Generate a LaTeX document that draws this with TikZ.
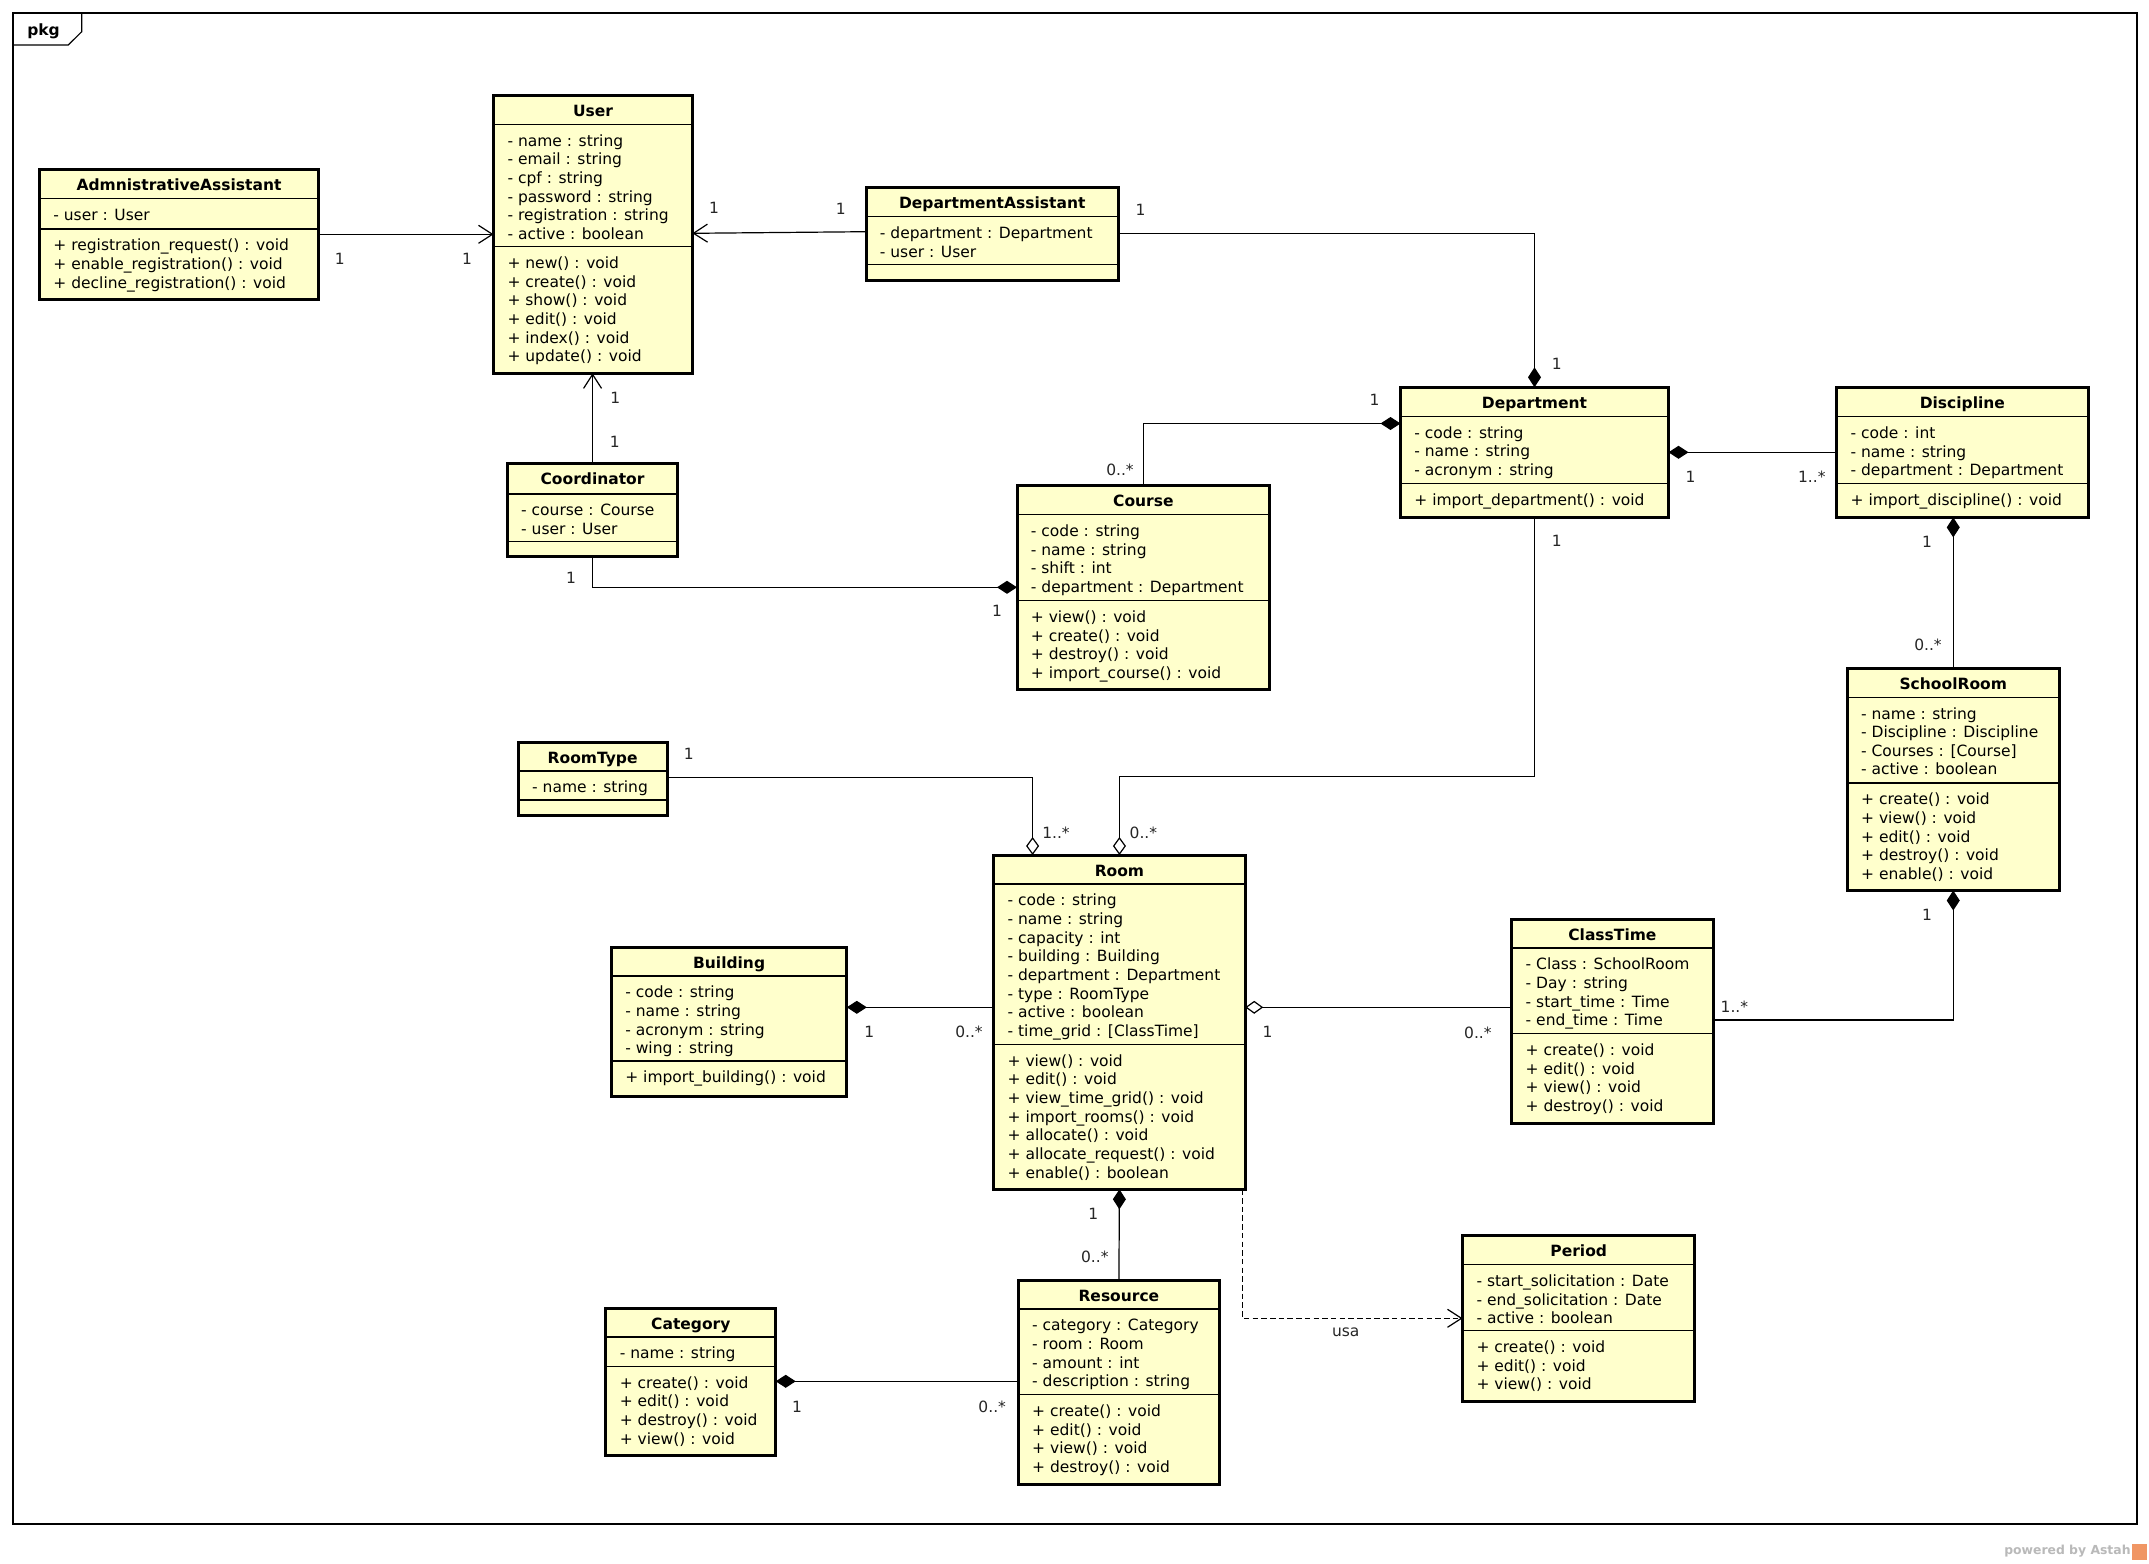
\documentclass[tikz,border=0pt]{standalone}
\usepackage{fontspec}
\setmainfont{DejaVu Sans}
\usetikzlibrary{arrows.meta}
\definecolor{classfill}{RGB}{255,255,204}
\definecolor{astahorange}{RGB}{240,150,100}
\definecolor{wmgray}{RGB}{185,185,185}
\tikzset{
  classbox/.style={rectangle, draw=black, fill=classfill, line width=1.5pt, inner sep=0pt, outer sep=0pt},
  sepline/.style={line width=0.55pt, draw=black},
  titletxt/.style={font=\fontsize{7.75}{9}\selectfont\bfseries, anchor=base, inner sep=0pt},
  rowtxt/.style={font=\fontsize{7.75}{9}\selectfont, anchor=base west, inner sep=0pt},
  multtxt/.style={font=\fontsize{7.75}{9}\selectfont, text=black!85, inner sep=0pt},
  conn/.style={line width=0.6pt, draw=black},
  cS/.style={conn, arrows={Diamond[length=10pt,width=6.5pt]-}},
  cE/.style={conn, arrows={-Diamond[length=10pt,width=6.5pt]}},
  aS/.style={conn, arrows={Diamond[open,length=9pt,width=6.5pt,fill=white]-}},
  aE/.style={conn, arrows={-Diamond[open,length=9pt,width=6.5pt,fill=white]}},
  nav/.style={conn, arrows={-Straight Barb[length=7pt,width=9pt]}},
  depline/.style={conn, dash pattern=on 2.75pt off 1.6pt, arrows={-Straight Barb[length=7pt,width=9pt]}},
  framebox/.style={rectangle, draw=black, line width=0.6pt, inner sep=0pt, outer sep=0pt},
}
% #1 name #2 x1 #3 y1 #4 x2 #5 y2 #6 s1 #7 s2 #8 title #9 attributes
\newcommand\umlclass[9]{%
  \node[classbox, anchor=north west, minimum width={(#4-#2)*0.5pt}, minimum height={(#5-#3)*0.5pt}] (#1) at (#2,#3) {};
  \draw[sepline] (#1.west |- 0,#6) -- (#1.east |- 0,#6);
  \draw[sepline] (#1.west |- 0,#7) -- (#1.east |- 0,#7);
  \node[titletxt] (#1-title) at ({(#2+#4)/2},{#3+21}) {#8};
  \foreach \rowtext [count=\i from 0] in {#9}
    \node[rowtxt] (#1-a\i) at ({#2+13.5},{#6+21.8+\i*18.65}) {\rowtext};
}
% #1 name #2 x1 #3 s2 #4 operations
\newcommand\umlops[4]{%
  \foreach \rowtext [count=\i from 0] in {#4}
    \node[rowtxt] (#1-o\i) at ({#2+13.5},{#3+21.8+\i*18.65}) {\rowtext};
}
\newcommand\mult[4]{\node[multtxt] (#1) at (#2,#3) {#4};}

\begin{document}
\begin{tikzpicture}[x=0.5pt, y=-0.5pt]
\useasboundingbox (0,0) rectangle (2149,1564);
\fill[white] (0,0) rectangle (2149,1564);

% package frame
\node[framebox, anchor=north west, minimum width={2124*0.5pt}, minimum height={1511*0.5pt}] (frame) at (13,13) {};
\draw[line width=0.6pt] (frame.north west |- 0,45) -- (68.3,45) -- (81.7,31.7) -- (81.7,13);
\node[font=\fontsize{7.75}{9}\selectfont\bfseries, inner sep=0pt] (pkg) at (43.5,31) {pkg};

% classes
\umlclass{aa}{39.5}{169.3}{318.6}{299.3}{198.3}{229}{AdmnistrativeAssistant}{- user : User}
\umlops{aa}{39.5}{229}{+ registration\_request() : void, + enable\_registration() : void, + decline\_registration() : void}

\umlclass{user}{493.6}{95}{692.4}{373.3}{124.3}{246.7}{User}{- name : string, - email : string, - cpf : string, - password : string, - registration : string, - active : boolean}
\umlops{user}{493.6}{246.7}{+ new() : void, + create() : void, + show() : void, + edit() : void, + index() : void, + update() : void}

\umlclass{da}{866}{187}{1118.5}{280}{216.7}{264.3}{DepartmentAssistant}{- department : Department, - user : User}

\umlclass{dept}{1400.5}{387.3}{1668.5}{517}{416.5}{483.7}{Department}{- code : string, - name : string, - acronym : string}
\umlops{dept}{1400.5}{483.7}{+ import\_department() : void}

\umlclass{disc}{1836.7}{387.3}{2088}{517.4}{416.8}{483.7}{Discipline}{- code : int, - name : string, - department : Department}
\umlops{disc}{1836.7}{483.7}{+ import\_discipline() : void}

\umlclass{coord}{507.3}{463.7}{677.8}{556.7}{494}{541.3}{Coordinator}{- course : Course, - user : User}

\umlclass{course}{1017}{485.3}{1269.7}{689.7}{514.7}{600.7}{Course}{- code : string, - name : string, - shift : int, - department : Department}
\umlops{course}{1017}{600.7}{+ view() : void, + create() : void, + destroy() : void, + import\_course() : void}

\umlclass{school}{1847.2}{668.2}{2059.3}{890.5}{697.2}{783}{SchoolRoom}{- name : string, - Discipline : Discipline, - Courses : [Course], - active : boolean}
\umlops{school}{1847.2}{783}{+ create() : void, + view() : void, + edit() : void, + destroy() : void, + enable() : void}

\umlclass{roomtype}{518.3}{742}{667}{815.7}{771}{800}{RoomType}{- name : string}

\umlclass{room}{993.7}{855}{1245.2}{1189.3}{884}{1044.3}{Room}{- code : string, - name : string, - capacity : int, - building : Building, - department : Department, - type : RoomType, - active : boolean, - time\_grid : [ClassTime]}
\umlops{room}{993.7}{1044.3}{+ view() : void, + edit() : void, + view\_time\_grid() : void, + import\_rooms() : void, + allocate() : void, + allocate\_request() : void, + enable() : boolean}

\umlclass{building}{611.4}{947}{846.8}{1096}{976}{1061}{Building}{- code : string, - name : string, - acronym : string, - wing : string}
\umlops{building}{611.4}{1061}{+ import\_building() : void}

\umlclass{classtime}{1511.8}{919.3}{1713}{1123.5}{948}{1033.6}{ClassTime}{- Class : SchoolRoom, - Day : string, - start\_time : Time, - end\_time : Time}
\umlops{classtime}{1511.8}{1033.6}{+ create() : void, + edit() : void, + view() : void, + destroy() : void}

\umlclass{period}{1462.6}{1235.6}{1694.8}{1401.4}{1264.8}{1330.7}{Period}{- start\_solicitation : Date, - end\_solicitation : Date, - active : boolean}
\umlops{period}{1462.6}{1330.7}{+ create() : void, + edit() : void, + view() : void}

\umlclass{resource}{1018.3}{1280}{1219.5}{1484.7}{1309}{1394.7}{Resource}{- category : Category, - room : Room, - amount : int, - description : string}
\umlops{resource}{1018.3}{1394.7}{+ create() : void, + edit() : void, + view() : void, + destroy() : void}

\umlclass{category}{605.9}{1308}{775.7}{1455.7}{1337}{1366.3}{Category}{- name : string}
\umlops{category}{605.9}{1366.3}{+ create() : void, + edit() : void, + destroy() : void, + view() : void}

% connectors
\draw[nav] (aa.east |- 0,234.3) -- (user.west |- 0,234.3);
\draw[nav] (da.west |- 0,231.7) -- (user.east |- 0,233.3);
\draw[cE] (da.east |- 0,233.3) -| (dept.north);
\draw[cS] (dept.west |- 0,423.5) -| (course.north);
\draw[nav] (coord.north) -- (coord.north |- user.south);
\draw[cE] (coord.south) |- (course.west |- 0,587.3);
\draw[aE] (roomtype.east |- 0,777.3) -| (1032.6,0 |- room.north);
\draw[aE] (dept.south) |- (room.north |- 0,776.5) -- (room.north);
\draw[cS] (dept.east |- 0,452.3) -- (disc.west |- 0,452.3);
\draw[cS] (disc.south -| school.north) -- (school.north);
\draw[cS] (school.south) |- (classtime.east |- 0,1020);
\draw[aS] (room.east |- 0,1007.3) -- (classtime.west |- 0,1007.3);
\draw[cS] (building.east |- 0,1007.3) -- (room.west |- 0,1007.3);
\draw[cS] (room.south) -- (resource.north);
\draw[cS] (category.east |- 0,1381.3) -- (resource.west |- 0,1381.3);
\draw[depline] (room.south -| 1242.4,0) |- (period.west |- 0,1318.3);

% multiplicities and labels
\mult{m1}{339.8}{259.3}{1}
\mult{m2}{467}{259.3}{1}
\mult{m3}{714}{208.3}{1}
\mult{m4}{840.8}{209.3}{1}
\mult{m5}{1140.6}{210}{1}
\mult{m6}{1556.7}{364.3}{1}
\mult{m7}{1374.6}{400.2}{1}
\mult{m8}{1120}{470}{0..*}
\mult{m9}{615.2}{398.3}{1}
\mult{m10}{614.7}{441.7}{1}
\mult{m11}{571}{578.3}{1}
\mult{m12}{997}{610.7}{1}
\mult{m13}{688.7}{754.3}{1}
\mult{m14}{1056}{832.7}{1..*}
\mult{m15}{1556.7}{541}{1}
\mult{m16}{1143.4}{832.7}{0..*}
\mult{m17}{1690.5}{477.2}{1}
\mult{m18}{1811.8}{477.2}{1..*}
\mult{m19}{1927}{542.2}{1}
\mult{m20}{1928}{644.4}{0..*}
\mult{m21}{1927}{914.9}{1}
\mult{m22}{1734.4}{1006.5}{1..*}
\mult{m23}{1267.6}{1032.3}{1}
\mult{m24}{1477.9}{1032.7}{0..*}
\mult{m25}{869.2}{1032.3}{1}
\mult{m26}{969}{1032.3}{0..*}
\mult{m27}{1093.2}{1214}{1}
\mult{m28}{1094.8}{1257.3}{0..*}
\mult{m29}{797}{1407.3}{1}
\mult{m30}{992.2}{1407.3}{0..*}
\mult{usa}{1345.7}{1332}{usa}

% watermark
\node[font=\fontsize{6.2}{7}\selectfont\bfseries, text=wmgray, anchor=east, inner sep=0pt] (wm) at (2131,1551.5) {powered by Astah};
\node[rectangle, fill=astahorange, inner sep=0pt, outer sep=0pt, minimum width=7.5pt, minimum height=8pt, anchor=west] (wmicon) at (2132,1551.5) {};
\end{tikzpicture}
\end{document}
